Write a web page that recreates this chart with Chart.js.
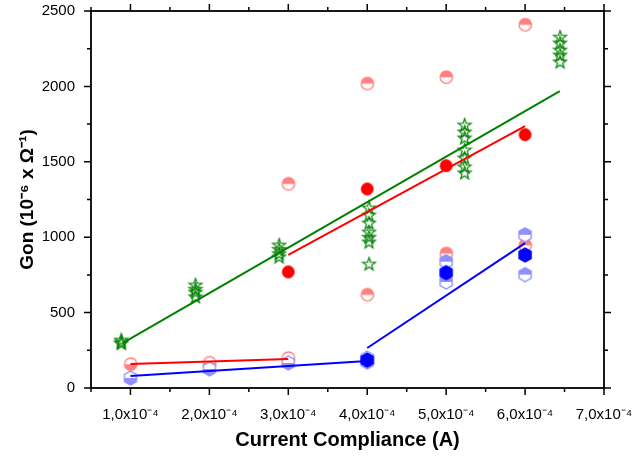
<!DOCTYPE html>
<html>
<head>
<meta charset="utf-8">
<script src="https://cdn.jsdelivr.net/npm/chart.js@4/dist/chart.umd.min.js"></script>
<style>
  body { margin: 0; background: #fff; }
</style>
</head>
<body>
<canvas id="gonCanvas" width="633" height="457"></canvas>
<script>
// ---- data ----
const xTickVals = [1e-4, 2e-4, 3e-4, 4e-4, 5e-4, 6e-4, 7e-4];
const xTickLabels = ['1,0x10⁻⁴', '2,0x10⁻⁴', '3,0x10⁻⁴', '4,0x10⁻⁴', '5,0x10⁻⁴', '6,0x10⁻⁴', '7,0x10⁻⁴'];
const xMinorTicks = [0.5e-4, 1.5e-4, 2.5e-4, 3.5e-4, 4.5e-4, 5.5e-4, 6.5e-4];
const yTickVals = [0, 500, 1000, 1500, 2000, 2500];
const yTickLabels = ['0', '500', '1000', '1500', '2000', '2500'];
const yMinorTicks = [250, 750, 1250, 1750, 2250];

// green stars
const starX = [0.88e-4, 0.88e-4, 0.88e-4,
  1.82e-4, 1.82e-4, 1.82e-4, 1.82e-4,
  2.88e-4, 2.88e-4, 2.88e-4, 2.88e-4,
  4.02e-4, 4.02e-4, 4.02e-4, 4.02e-4, 4.02e-4, 4.02e-4, 4.02e-4,
  5.23e-4, 5.23e-4, 5.23e-4, 5.23e-4, 5.23e-4, 5.23e-4, 5.23e-4,
  6.44e-4, 6.44e-4, 6.44e-4, 6.44e-4, 6.44e-4];
const starY = [295, 305, 318,
  683, 655, 636, 604,
  948, 920, 890, 869,
  1194, 1147, 1094, 1034, 1000, 968, 822,
  1744, 1698, 1658, 1578, 1525, 1466, 1426,
  2327, 2288, 2241, 2208, 2162];

// light red circles, upper half filled
const redHiX = [3e-4, 4e-4, 4e-4, 5e-4, 5e-4, 6e-4, 6e-4];
const redHiY = [1355, 2020, 620, 2062, 893, 2410, 948];
// light red circles, lower half filled
const redLoX = [1e-4, 2e-4, 3e-4];
const redLoY = [159, 168, 199];
// solid red circles
const redX = [3e-4, 4e-4, 5e-4, 6e-4];
const redY = [770, 1320, 1474, 1680];

// light blue hexagons, upper half filled
const blueHiX = [5e-4, 5e-4, 6e-4, 6e-4];
const blueHiY = [838, 703, 1016, 752];
// light blue hexagons, lower half filled
const blueLoX = [1e-4, 2e-4, 3e-4, 4e-4, 4e-4];
const blueLoY = [66, 126, 166, 172, 198];
// solid blue hexagons
const blueX = [4e-4, 5e-4, 6e-4];
const blueY = [186, 765, 882];

// fitted lines (end points)
const redFit1X = [1e-4, 3e-4], redFit1Y = [159, 192];
const redFit2X = [3e-4, 6e-4], redFit2Y = [882, 1737];
const blueFit1X = [1e-4, 4e-4], blueFit1Y = [80, 179];
const blueFit2X = [4e-4, 6e-4], blueFit2Y = [265, 961];
const greenFitX = [0.9e-4, 6.44e-4], greenFitY = [298, 1969];

const LIGHT_RED = '#ff8080';
const LIGHT_BLUE = '#8f8fff';

// ---- marker images ----
function makeMarker(size, draw) {
    const c = document.createElement('canvas');
    c.width = c.height = size;
    const g = c.getContext('2d');
    g.translate(size / 2, size / 2);
    draw(g);
    return c;
}

function halfCircle(r, color, topFilled) {
    return makeMarker(2 * r + 4, g => {
        g.fillStyle = '#fff';
        g.beginPath(); g.arc(0, 0, r, 0, Math.PI * 2); g.fill();
        g.fillStyle = color;
        g.beginPath();
        if (topFilled) g.arc(0, 0, r, Math.PI, 0); else g.arc(0, 0, r, 0, Math.PI);
        g.closePath(); g.fill();
        g.strokeStyle = color; g.lineWidth = 1.3;
        g.beginPath(); g.arc(0, 0, r, 0, Math.PI * 2); g.stroke();
    });
}

function hexPath(g, r) {
    g.beginPath();
    for (let k = 0; k < 6; k++) {
        const a = -Math.PI / 2 + k * Math.PI / 3;
        g.lineTo(r * Math.cos(a), r * Math.sin(a));
    }
    g.closePath();
}

function hexagon(r, color, half) {
    return makeMarker(2 * r + 4, g => {
        hexPath(g, r);
        g.fillStyle = half ? '#fff' : color;
        g.fill();
        if (half) {
            g.save();
            g.beginPath();
            g.rect(-r - 2, half === 'top' ? -r - 2 : 0, 2 * r + 4, r + 2);
            g.clip();
            hexPath(g, r); g.fillStyle = color; g.fill();
            g.restore();
        }
        hexPath(g, r); g.strokeStyle = color; g.lineWidth = 1.3; g.stroke();
    });
}

function starOutline(r, color) {
    return makeMarker(2 * r + 4, g => {
        g.beginPath();
        for (let k = 0; k < 10; k++) {
            const a = -Math.PI / 2 + k * Math.PI / 5;
            const rr = k % 2 ? r * 0.4 : r;
            g.lineTo(rr * Math.cos(a), rr * Math.sin(a));
        }
        g.closePath();
        g.strokeStyle = color; g.lineWidth = 1.2; g.stroke();
    });
}

const pts = (xs, ys) => xs.map((x, i) => ({ x: x, y: ys[i] }));

function markerSet(xs, ys, img, order) {
    return { data: pts(xs, ys), pointStyle: img, pointRadius: 6, showLine: false, order: order };
}
function fitLine(xs, ys, color) {
    return { data: pts(xs, ys), showLine: true, borderColor: color, borderWidth: 2, pointRadius: 0, order: 0 };
}

// ticks and box frame, drawn from the scales
const axisFrame = {
    id: 'axisFrame',
    afterDraw(chart) {
        const { ctx, chartArea: a, scales: { x, y } } = chart;
        ctx.save();
        ctx.strokeStyle = '#000';
        ctx.lineWidth = 1.5;
        ctx.beginPath();
        const seg = (x1, y1, x2, y2) => { ctx.moveTo(x1, y1); ctx.lineTo(x2, y2); };
        xTickVals.forEach(v => { const p = x.getPixelForValue(v); seg(p, a.bottom, p, a.bottom + 7); seg(p, a.top, p, a.top - 7); });
        xMinorTicks.forEach(v => { const p = x.getPixelForValue(v); seg(p, a.bottom, p, a.bottom + 4); seg(p, a.top, p, a.top - 4); });
        yTickVals.forEach(v => { const p = y.getPixelForValue(v); seg(a.left, p, a.left - 7, p); seg(a.right, p, a.right + 7, p); });
        yMinorTicks.forEach(v => { const p = y.getPixelForValue(v); seg(a.left, p, a.left - 4, p); seg(a.right, p, a.right + 4, p); });
        ctx.stroke();
        ctx.lineWidth = 1.8;
        ctx.strokeRect(a.left, a.top, a.right - a.left, a.bottom - a.top);
        ctx.restore();
    }
};

document.addEventListener('DOMContentLoaded', function() {
    const ctx = document.getElementById('gonCanvas').getContext('2d');
    new Chart(ctx, {
        type: 'scatter',
        data: {
            datasets: [
                fitLine(greenFitX, greenFitY, '#008000'),
                fitLine(redFit1X, redFit1Y, '#ff0000'),
                fitLine(redFit2X, redFit2Y, '#ff0000'),
                fitLine(blueFit1X, blueFit1Y, '#0000ff'),
                fitLine(blueFit2X, blueFit2Y, '#0000ff'),
                markerSet(redX, redY, makeMarker(17, g => { g.fillStyle = '#ff0000'; g.beginPath(); g.arc(0, 0, 6.4, 0, Math.PI * 2); g.fill(); }), 1),
                markerSet(blueX, blueY, hexagon(7, '#0000ff', null), 1),
                markerSet(starX, starY, starOutline(6.8, '#008000'), 2),
                markerSet(blueHiX, blueHiY, hexagon(7, LIGHT_BLUE, 'top'), 3),
                markerSet(blueLoX, blueLoY, hexagon(7, LIGHT_BLUE, 'bottom'), 3),
                markerSet(redHiX, redHiY, halfCircle(6.2, LIGHT_RED, true), 4),
                markerSet(redLoX, redLoY, halfCircle(6.2, LIGHT_RED, false), 4)
            ]
        },
        options: {
            responsive: false,
            animation: false,
            layout: { padding: { top: 11, right: 29, left: 0, bottom: 0 } },
            plugins: {
                legend: { display: false },
                tooltip: { enabled: false }
            },
            scales: {
                x: {
                    type: 'linear',
                    min: 0.5e-4,
                    max: 7e-4,
                    grid: { display: false },
                    border: { display: false },
                    afterBuildTicks: s => { s.ticks = xTickVals.map(v => ({ value: v })); },
                    afterFit: s => { s.height = 69; s.paddingLeft = 0; s.paddingRight = 0; },
                    ticks: {
                        padding: 10,
                        maxRotation: 0,
                        color: '#000',
                        font: { family: 'Liberation Sans', size: 15 },
                        callback: (v, i) => xTickLabels[i]
                    },
                    title: {
                        display: true,
                        text: 'Current Compliance (A)',
                        color: '#000',
                        font: { family: 'Liberation Sans', size: 20, weight: 'bold' },
                        padding: { top: 0, bottom: 5 }
                    }
                },
                y: {
                    type: 'linear',
                    min: 0,
                    max: 2500,
                    grid: { display: false },
                    border: { display: false },
                    afterBuildTicks: s => { s.ticks = yTickVals.map(v => ({ value: v })); },
                    afterFit: s => { s.width = 91; s.paddingTop = 0; s.paddingBottom = 0; },
                    ticks: {
                        padding: 8,
                        color: '#000',
                        font: { family: 'Liberation Sans', size: 15 },
                        callback: (v, i) => yTickLabels[i]
                    },
                    title: {
                        display: true,
                        text: 'Gon (10⁻⁶ x Ω⁻¹)',
                        color: '#000',
                        font: { family: 'Liberation Sans', size: 19, weight: 'bold' },
                        padding: { top: 16, bottom: 0 }
                    }
                }
            }
        },
        plugins: [axisFrame]
    });
});
</script>
</body>
</html>
